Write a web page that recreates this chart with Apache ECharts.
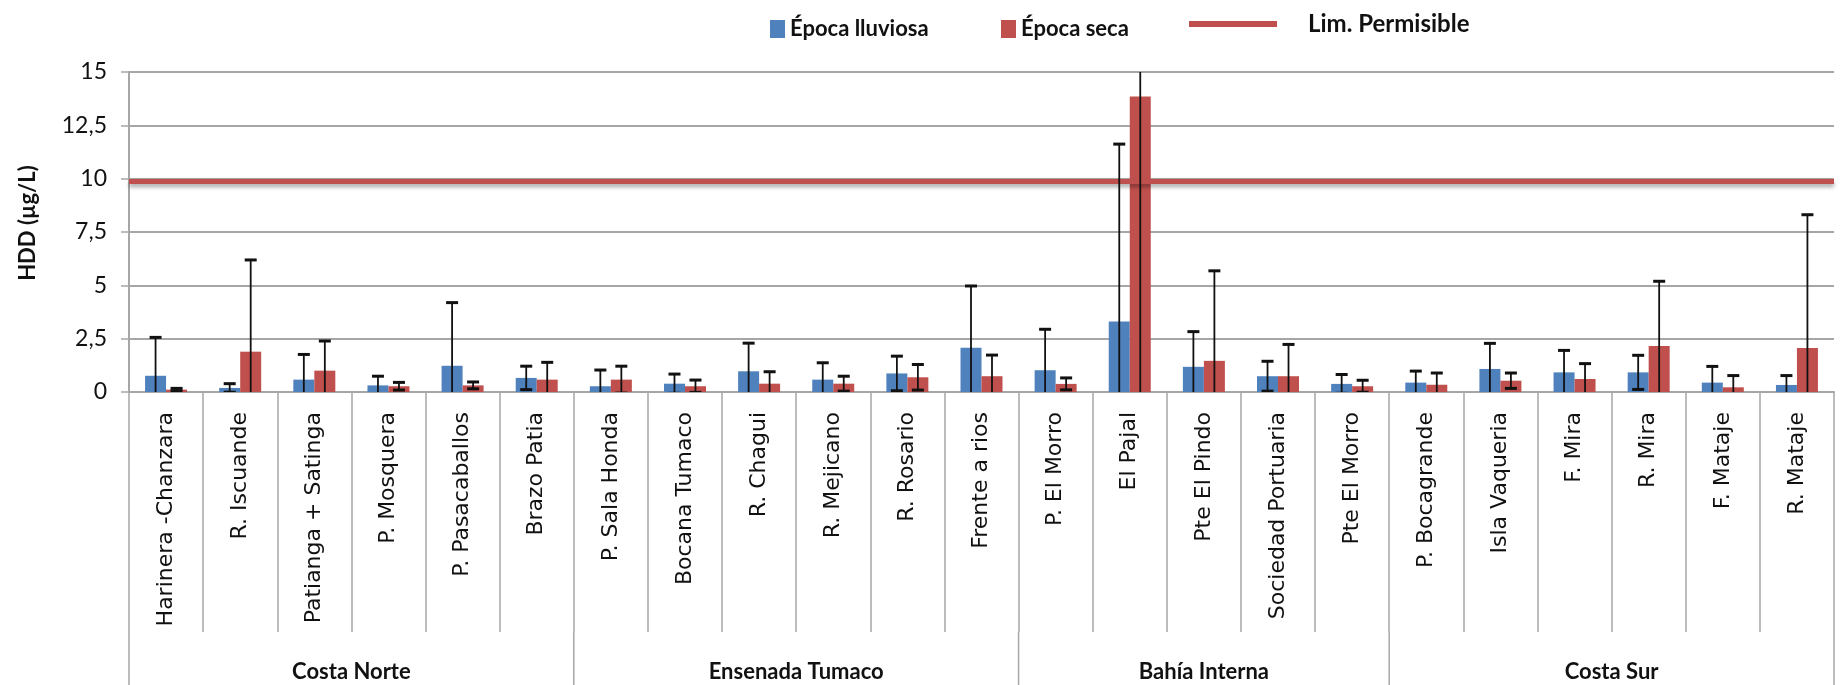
<!DOCTYPE html>
<html>
<head>
<meta charset="utf-8">
<script src="https://cdn.jsdelivr.net/npm/echarts@6/dist/echarts.min.js"></script>
<style>
html,body{margin:0;padding:0;background:#fff;}
#chart{width:1841px;height:685px;}
</style>
</head>
<body>
<div id="chart"></div>
<script>
// ---------- DATA ----------
const categories = [
  'Harinera -Chanzara','R. Iscuande','Patianga + Satinga','P. Mosquera','P. Pasacaballos','Brazo Patia',
  'P. Sala Honda','Bocana Tumaco','R. Chagui','R. Mejicano','R. Rosario','Frente a rios',
  'P. El Morro','El Pajal','Pte El Pindo','Sociedad Portuaria','Pte El Morro',
  'P. Bocagrande','Isla Vaqueria','F. Mira','R. Mira','F. Mataje','R. Mataje'
];
const groupNames = ['Costa Norte','Ensenada Tumaco','Bahía Interna','Costa Sur'];
const groupSizes = [6, 6, 5, 6];

const rainy    = [0.76,0.19,0.58,0.31,1.23,0.66, 0.27,0.39,0.97,0.58,0.87,2.08, 1.02,3.30,1.18,0.74,0.38, 0.44,1.08,0.92,0.92,0.44,0.33];
const rainyErr = [1.80,0.20,1.18,0.43,2.96,0.55, 0.76,0.45,1.32,0.79,0.81,2.89, 1.92,8.32,1.65,0.70,0.44, 0.54,1.20,1.03,0.80,0.76,0.44];
const dry      = [0.11,1.89,1.00,0.27,0.31,0.58, 0.58,0.27,0.39,0.39,0.69,0.74, 0.38,13.85,1.46,0.74,0.27, 0.34,0.53,0.61,2.16,0.22,2.06];
const dryErr   = [0.06,4.30,1.39,0.18,0.16,0.81, 0.63,0.29,0.56,0.35,0.60,0.99, 0.28,14.20,4.22,1.49,0.28, 0.55,0.36,0.72,3.03,0.55,6.25];
const limitValue = 9.9;

const yMin = 0, yMax = 15, yStep = 2.5;
const seriesNames = ['Época lluviosa','Época seca','Lim. Permisible'];
const yTitle = 'HDD (µg/L)';

// ---------- STYLE ----------
const BLUE = '#4F81BD', RED = '#C0504D', GRID = '#a6a6a6', TXT = '#111';
const BAR_W = 21;
const TICK_LEN = 240;

const chart = echarts.init(document.getElementById('chart'), null, {renderer:'canvas'});

function errorSeries(name, values, errs, sign) {
  return {
    type: 'custom',
    name: name + ' err',
    clip: true,
    z: 5,
    silent: true,
    data: values.map((v, i) => [i, v, errs[i]]),
    encode: {x: 0, y: 1},
    renderItem: function (params, api) {
      const i = api.value(0), v = api.value(1), e = api.value(2);
      const top = api.coord([i, v + e]);
      const bot = api.coord([i, v - e]);
      const x = top[0] + sign * BAR_W / 2;
      const cap = 6;
      return {
        type: 'group',
        children: [
          {type: 'line', shape: {x1: x, y1: top[1], x2: x, y2: bot[1]}, style: {stroke: '#111', lineWidth: 1.8}},
          {type: 'line', shape: {x1: x - cap, y1: top[1], x2: x + cap, y2: top[1]}, style: {stroke:'#111', lineWidth: 3}},
          {type: 'line', shape: {x1: x - cap, y1: bot[1], x2: x + cap, y2: bot[1]}, style: {stroke:'#111', lineWidth: 3}}
        ]
      };
    }
  };
}

const legendText = {fontFamily: 'Lato', fontWeight: 'bold', fontSize: 22, color: TXT};

const option = {
  animation: false,
  backgroundColor: '#fff',
  grid: {left: 129, right: 7, top: 72, bottom: 293, containLabel: false},
  legend: [
    {data: [seriesNames[0]], left: 770, top: 18, padding: 0, itemWidth: 15, itemHeight: 18, icon: 'rect', textStyle: legendText},
    {data: [seriesNames[1]], left: 1001, top: 18, padding: 0, itemWidth: 15, itemHeight: 18, icon: 'rect', textStyle: legendText},
    {data: [seriesNames[2]], left: 1189, top: 12, padding: 0, itemWidth: 88, itemHeight: 6, icon: 'rect',
     textStyle: Object.assign({}, legendText, {fontSize: 24, padding: [0, 0, 6, 26]})}
  ],
  xAxis: {
    type: 'category',
    data: categories,
    axisLine: {show: true, lineStyle: {color: GRID, width: 2}},
    axisTick: {show: true, interval: 0, length: TICK_LEN, lineStyle: {color: GRID, width: 1.5}},
    axisLabel: {interval: 0, rotate: 90, margin: 20, fontFamily: 'DejaVu Sans', fontSize: 22, color: TXT}
  },
  yAxis: {
    type: 'value', min: yMin, max: yMax, interval: yStep,
    name: yTitle, nameLocation: 'middle', nameGap: 90,
    nameTextStyle: {fontFamily: 'Lato', fontWeight: 'bold', fontSize: 22, color: TXT, padding: [0, 0, 0, 18]},
    axisLine: {show: true, lineStyle: {color: GRID, width: 2}},
    axisTick: {show: true, length: 8, lineStyle: {color: GRID, width: 1.5}},
    axisLabel: {margin: 22, fontFamily: 'Lato', fontSize: 23, color: TXT,
      formatter: v => String(v).replace('.', ',')},
    splitLine: {show: true, lineStyle: {color: GRID, width: 2}}
  },
  series: [
    {type: 'bar', name: seriesNames[0], data: rainy, barWidth: BAR_W, barGap: '0%', itemStyle: {color: BLUE}, z: 2},
    {type: 'bar', name: seriesNames[1], data: dry, barWidth: BAR_W, barGap: '0%', itemStyle: {color: RED}, z: 2},
    {type: 'line', name: seriesNames[2], data: [], itemStyle: {color: RED}, lineStyle: {color: RED, width: 5},
     markLine: {silent: true, symbol: ['none','none'], label: {show: false},
       lineStyle: {color: RED, width: 5, type: 'solid', shadowColor: 'rgba(0,0,0,0.35)', shadowBlur: 4, shadowOffsetY: 3},
       data: [{yAxis: limitValue}]}, z: 4},
    errorSeries(seriesNames[0], rainy, rainyErr, -1),
    errorSeries(seriesNames[1], dry, dryErr, 1)
  ]
};
chart.setOption(option);

// group separators and labels placed through the axis scale
function drawGroups() {
  const c0 = chart.convertToPixel({xAxisIndex: 0}, 0);
  const c1 = chart.convertToPixel({xAxisIndex: 0}, 1);
  const w = c1 - c0;
  const y0 = chart.convertToPixel({yAxisIndex: 0}, 0);
  const yTop = y0 + TICK_LEN;
  const yBot = chart.getHeight();
  const elements = [];
  let start = 0;
  const bounds = [0];
  groupSizes.forEach(s => { start += s; bounds.push(start); });
  bounds.forEach(b => {
    const x = c0 - w / 2 + b * w;
    elements.push({type: 'line', shape: {x1: x, y1: yTop, x2: x, y2: yBot},
      style: {stroke: GRID, lineWidth: 1.5}, silent: true});
  });
  for (let g = 0; g < groupNames.length; g++) {
    const xa = c0 - w / 2 + bounds[g] * w;
    const xb = c0 - w / 2 + bounds[g + 1] * w;
    elements.push({type: 'text', x: (xa + xb) / 2, y: (yTop + yBot) / 2 + 13,
      style: {text: groupNames[g], fontFamily: 'Lato', fontWeight: 'bold', fontSize: 22, fill: TXT,
        align: 'center', verticalAlign: 'middle'}, silent: true});
  }
  chart.setOption({graphic: elements});
}
drawGroups();
</script>
</body>
</html>
